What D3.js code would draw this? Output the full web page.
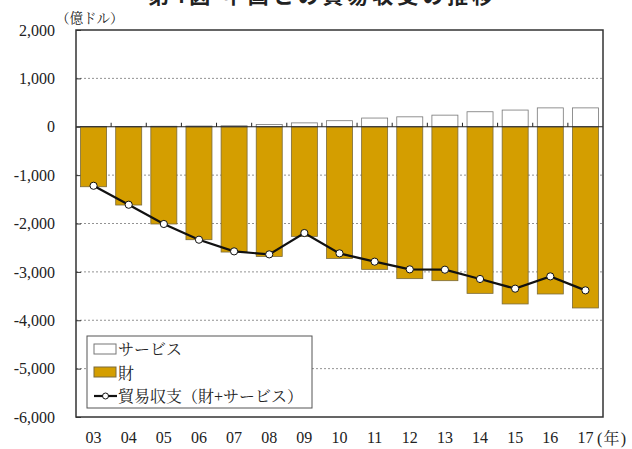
<!DOCTYPE html>
<html>
<head>
<meta charset="utf-8">
<script src="https://cdn.jsdelivr.net/npm/d3@7"></script>
<style>
  body { margin: 0; background: #fff; }
  svg text { font-family: "Liberation Serif", "Noto Serif CJK JP", "Noto Sans CJK JP", serif; fill: #222; }
</style>
</head>
<body>
<svg id="chart" width="632" height="449"></svg>
<script>
// years (x labels)
var years = ["03","04","05","06","07","08","09","10","11","12","13","14","15","16","17"];
// goods balance (億ドル)
var goods = [-1240,-1618,-2010,-2335,-2590,-2680,-2266,-2722,-2948,-3140,-3182,-3444,-3663,-3457,-3746];
// services balance (億ドル)
var services = [5,5,10,15,20,45,80,125,180,205,240,310,345,390,390];
// total trade balance (goods + services)
var balance = [-1220,-1612,-2010,-2335,-2576,-2638,-2197,-2617,-2789,-2948,-2955,-3147,-3347,-3093,-3382];
var yTicks = [2000,1000,0,-1000,-2000,-3000,-4000,-5000,-6000];

var GOLD = "#d49e00";

var svg = d3.select("#chart");
var pLeft = 76, pRight = 603, pTop = 30, pBottom = 417;

var x = d3.scaleBand().domain(years).range([pLeft, pRight]).paddingInner(0.26).paddingOuter(0.13);
var xb = d3.scaleBand().domain(years).range([pLeft, pRight]);
var y = d3.scaleLinear().domain([-6000, 2000]).range([pBottom, pTop]);

// title (cut off at top like the original)
svg.append("text")
   .attr("x", 148).attr("y", 3)
   .attr("font-size", 21).attr("font-weight", "bold")
   .attr("textLength", 345)
   .style("font-family", "'Noto Sans CJK JP', sans-serif")
   .text("第4図 中国との貿易収支の推移");

// unit label
svg.append("text").attr("x", 56).attr("y", 23).attr("font-size", 13.5).text("（億ドル）");

// gridlines
svg.append("g").selectAll("line")
   .data(yTicks.filter(function(d) { return d !== 0 && d !== 2000 && d !== -6000; }))
   .enter().append("line")
   .attr("x1", pLeft).attr("x2", pRight)
   .attr("y1", function(d) { return y(d); }).attr("y2", function(d) { return y(d); })
   .attr("stroke", "#777").attr("stroke-width", 0.8).attr("stroke-dasharray", "2,2");

// y-axis
var fmt = d3.format(",");
var yAxis = d3.axisLeft(y).tickValues(yTicks).tickSize(-5).tickPadding(21)
   .tickFormat(function(d) { return fmt(d).replace("\u2212", "-"); });
var gy = svg.append("g").attr("transform", "translate(" + pLeft + ",0)").call(yAxis);
gy.select(".domain").remove();
gy.selectAll(".tick line").attr("stroke", "#333");
gy.selectAll("text").attr("font-size", 16).style("fill", "#222")
  .style("font-family", "'Liberation Serif', serif");

// x labels
var xAxis = d3.axisBottom(xb).tickSize(0).tickPadding(15);
var gx = svg.append("g").attr("transform", "translate(0," + pBottom + ")").call(xAxis);
gx.select(".domain").remove();
gx.selectAll("text").attr("font-size", 16).style("fill", "#222")
  .style("font-family", "'Liberation Serif', serif");
svg.append("text").attr("x", 597).attr("y", 444).attr("font-size", 16)
   .attr("letter-spacing", 1.2).text("(年)");

// goods bars
svg.append("g").selectAll("rect")
   .data(goods).enter().append("rect")
   .attr("x", function(d, i) { return x(years[i]); })
   .attr("width", x.bandwidth())
   .attr("y", y(0))
   .attr("height", function(d) { return y(d) - y(0); })
   .attr("fill", GOLD).attr("stroke", "#7a6a3a").attr("stroke-width", 0.8);

// services bars
svg.append("g").selectAll("rect")
   .data(services).enter().append("rect")
   .attr("x", function(d, i) { return x(years[i]); })
   .attr("width", x.bandwidth())
   .attr("y", function(d) { return y(d); })
   .attr("height", function(d) { return y(0) - y(d); })
   .attr("fill", "#fff").attr("stroke", "#777").attr("stroke-width", 0.8);

// zero line + category ticks
svg.append("line").attr("x1", pLeft).attr("x2", pRight).attr("y1", y(0)).attr("y2", y(0))
   .attr("stroke", "#222").attr("stroke-width", 1.2);
svg.append("g").selectAll("line")
   .data(years.slice(1)).enter().append("line")
   .attr("x1", function(d) { return xb(d); }).attr("x2", function(d) { return xb(d); })
   .attr("y1", y(0)).attr("y2", y(0) - 4)
   .attr("stroke", "#222");

// trade balance line
var line = d3.line()
   .x(function(d, i) { return x(years[i]) + x.bandwidth() / 2; })
   .y(function(d) { return y(d); });
svg.append("path").datum(balance).attr("d", line)
   .attr("fill", "none").attr("stroke", "#111").attr("stroke-width", 2.2);
svg.append("g").selectAll("circle")
   .data(balance).enter().append("circle")
   .attr("cx", function(d, i) { return x(years[i]) + x.bandwidth() / 2; })
   .attr("cy", function(d) { return y(d); })
   .attr("r", 3.6).attr("fill", "#fff").attr("stroke", "#111").attr("stroke-width", 1);

// frame
svg.append("rect").attr("x", pLeft).attr("y", pTop).attr("width", pRight - pLeft).attr("height", pBottom - pTop)
   .attr("fill", "none").attr("stroke", "#333").attr("stroke-width", 1.5);

// legend
var lg = svg.append("g");
lg.append("rect").attr("x", 87).attr("y", 336).attr("width", 225).attr("height", 72)
  .attr("fill", "#fff").attr("stroke", "#555").attr("stroke-width", 1);
lg.append("rect").attr("x", 94).attr("y", 344).attr("width", 22).attr("height", 10)
  .attr("fill", "#fff").attr("stroke", "#777");
lg.append("rect").attr("x", 94).attr("y", 367).attr("width", 22).attr("height", 10)
  .attr("fill", GOLD).attr("stroke", "#7a6a3a");
lg.append("line").attr("x1", 94).attr("x2", 117).attr("y1", 396).attr("y2", 396)
  .attr("stroke", "#111").attr("stroke-width", 2.2);
lg.append("circle").attr("cx", 105.5).attr("cy", 396).attr("r", 3)
  .attr("fill", "#fff").attr("stroke", "#111");
var legendText = ["サービス", "財", "貿易収支（財+サービス）"];
lg.selectAll("text.lt").data(legendText).enter().append("text")
  .attr("class", "lt")
  .attr("x", 118).attr("y", function(d, i) { return 355 + i * 23.5; })
  .attr("font-size", 16)
  .text(function(d) { return d; });
</script>
</body>
</html>
